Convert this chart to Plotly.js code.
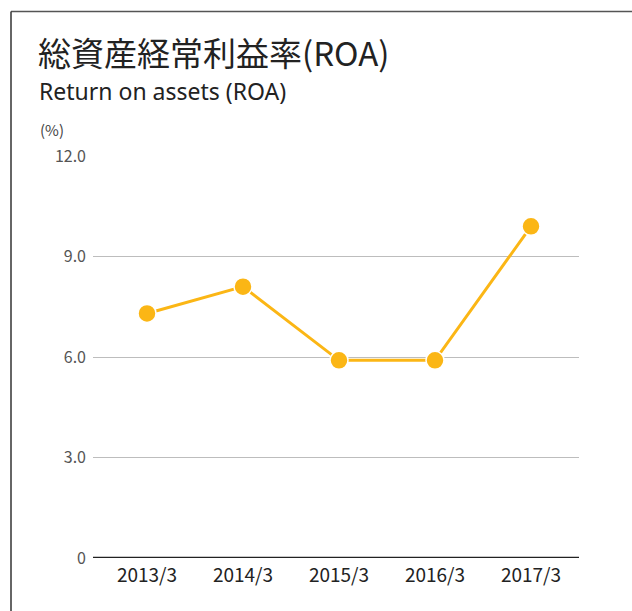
<!DOCTYPE html>
<html><head><meta charset="utf-8">
<script src="https://cdn.plot.ly/plotly-3.0.1.min.js"></script>
<style>html,body{margin:0;padding:0;background:#fff}#chart{width:632px;height:611px}</style>
</head><body><div id="chart"></div>
<script>
const categories = ["2013/3","2014/3","2015/3","2016/3","2017/3"];
const roaValues = [7.3, 8.1, 5.9, 5.9, 9.9];
const yTickValues = [0, 3, 6, 9, 12];
const yTickLabels = ["0","3.0","6.0","9.0","12.0"];

const W = 632, H = 611;
const L = 93, R = 579, T = 156, B = 558;
const font = '"Noto Sans CJK JP", "Noto Sans", sans-serif';
const latinFont = '"Noto Sans", "Noto Sans CJK JP", sans-serif';
const px = v => (v - L) / (R - L);
const py = v => (B - v) / (B - T);

const trace = {
  x: categories.map((c,i)=>i), y: roaValues, type: 'scatter', mode: 'lines+markers',
  line: {color: '#FBB615', width: 3},
  marker: {color: '#FBB615', size: 18, line: {color: '#fff', width: 1.5}},
  hoverinfo: 'none', cliponaxis: false
};

const layout = {
  width: W, height: H,
  margin: {l: L, r: W - R, t: T, b: H - B, pad: 0},
  paper_bgcolor: '#fff', plot_bgcolor: '#fff',
  showlegend: false,
  font: {family: font, color: '#333'},
  xaxis: {
    range: [-0.5625, 4.5], tickvals: categories.map((c,i)=>i), ticktext: categories,
    showgrid: false, zeroline: false, showline: false, ticks: '',
    tickfont: {family: font, size: 19, color: '#222'}, ticklabelstandoff: 4, fixedrange: true
  },
  yaxis: {
    range: [0, 12], tickvals: yTickValues, ticktext: yTickLabels,
    showgrid: true, gridcolor: '#bdbdbd', gridwidth: 1, zeroline: false, showline: false, ticks: '',
    tickfont: {family: font, size: 16, color: '#555'}, ticklabelstandoff: 6, fixedrange: true
  },
  shapes: [
    {type: 'line', xref: 'paper', yref: 'y', x0: 0, x1: 1, y0: 0, y1: 0, line: {color: '#222', width: 2.5}},
    {type: 'line', xref: 'paper', yref: 'paper', x0: px(11), x1: px(W + 5),
      y0: py(11.5), y1: py(11.5), line: {color: '#555', width: 1.5}},
    {type: 'line', xref: 'paper', yref: 'paper', x0: px(11), x1: px(11),
      y0: py(11.5), y1: py(H + 5), line: {color: '#333', width: 1.5}}
  ],
  annotations: [
    {xref: 'paper', yref: 'paper', x: px(36), y: py(26), xanchor: 'left', yanchor: 'top',
      text: '総資産経常利益率(ROA)', showarrow: false, font: {family: font, size: 33, color: '#222'}},
    {xref: 'paper', yref: 'paper', x: px(37), y: py(73), xanchor: 'left', yanchor: 'top',
      text: 'Return on assets (ROA)', showarrow: false, font: {family: latinFont, size: 23, color: '#222'}},
    {xref: 'paper', yref: 'paper', x: px(38), y: py(117), xanchor: 'left', yanchor: 'top',
      text: '(%)', showarrow: false, font: {family: font, size: 15, color: '#444'}}
  ]
};

Plotly.newPlot('chart', [trace], layout, {displayModeBar: false, staticPlot: true});
</script></body></html>
